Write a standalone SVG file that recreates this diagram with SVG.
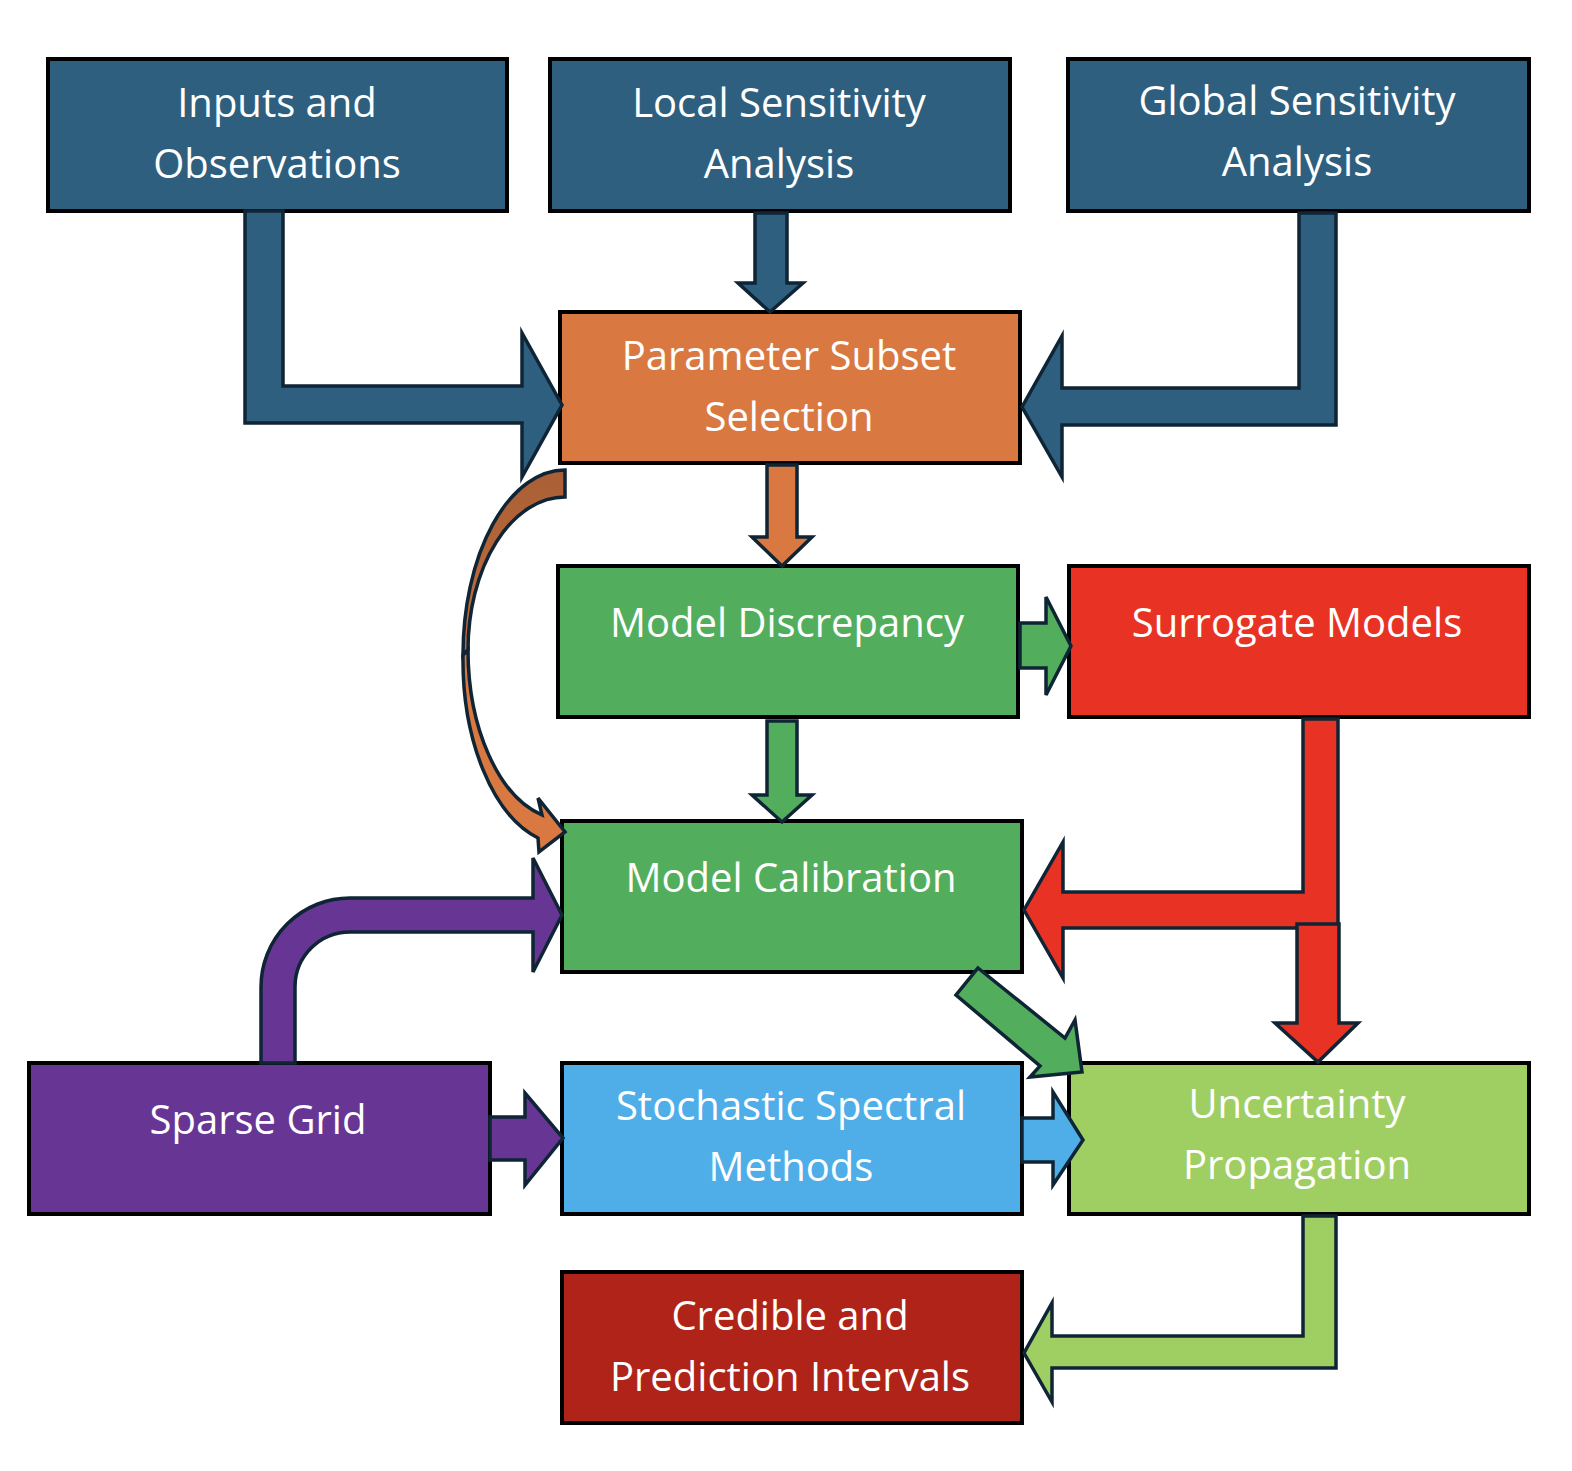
<svg xmlns="http://www.w3.org/2000/svg" width="1572" height="1471" viewBox="0 0 1572 1471">
<defs>
<linearGradient id="gBack" x1="0" y1="0" x2="0" y2="1">
<stop offset="0" stop-color="#A95F36"/>
<stop offset="1" stop-color="#C46D3C"/>
</linearGradient>
</defs>
<style>
.box{stroke:#000;stroke-width:4}
.arr{stroke:#0F2535;stroke-width:3.5;stroke-linejoin:miter}
.t{font-family:"Open Sans","Noto Sans","Liberation Sans",sans-serif;font-size:40px;fill:#fff;text-anchor:middle}
.navy{fill:#2E5F7F}.orange{fill:#D97941}.green{fill:#52AE5C}.red{fill:#E83324}
.purple{fill:#673695}.blue{fill:#4FADE8}.lgreen{fill:#9FCF63}.dred{fill:#B02318}
</style>
<rect width="1572" height="1471" fill="#fff"/>
<g id="nodes">
<g id="inputs"><rect class="box navy" x="48" y="59" width="459" height="152"/><text class="t" x="277" y="117">Inputs and</text><text class="t" x="277" y="178">Observations</text></g>
<g id="local"><rect class="box navy" x="550" y="59" width="460" height="152"/><text class="t" x="779" y="117">Local Sensitivity</text><text class="t" x="779" y="178">Analysis</text></g>
<g id="global"><rect class="box navy" x="1068" y="59" width="461" height="152"/><text class="t" x="1297" y="115">Global Sensitivity</text><text class="t" x="1297" y="176">Analysis</text></g>
<g id="subset"><rect class="box orange" x="560" y="312" width="460" height="151"/><text class="t" x="789" y="370">Parameter Subset</text><text class="t" x="789" y="431">Selection</text></g>
<g id="discrepancy"><rect class="box green" x="558" y="566" width="460" height="151"/><text class="t" x="787" y="637">Model Discrepancy</text></g>
<g id="surrogate"><rect class="box red" x="1069" y="566" width="460" height="151"/><text class="t" x="1297" y="637">Surrogate Models</text></g>
<g id="calibration"><rect class="box green" x="562" y="821" width="460" height="151"/><text class="t" x="791" y="892">Model Calibration</text></g>
<g id="sparse"><rect class="box purple" x="29" y="1063" width="461" height="151"/><text class="t" x="258" y="1134">Sparse Grid</text></g>
<g id="spectral"><rect class="box blue" x="562" y="1063" width="460" height="151"/><text class="t" x="791" y="1120">Stochastic Spectral</text><text class="t" x="791" y="1181">Methods</text></g>
<g id="propagation"><rect class="box lgreen" x="1069" y="1063" width="460" height="151"/><text class="t" x="1297" y="1118">Uncertainty</text><text class="t" x="1297" y="1179">Propagation</text></g>
<g id="intervals"><rect class="box dred" x="562" y="1272" width="460" height="151"/><text class="t" x="790" y="1330">Credible and</text><text class="t" x="790" y="1391">Prediction Intervals</text></g>
</g>
<g id="connectors">
<polygon class="arr navy" points="245,211 283,211 283,386 522,386 522,333 562,405 522,477 522,423 245,423"/>
<polygon class="arr navy" points="1336,213 1336,425 1062,425 1062,477 1022,407 1062,336 1062,388 1299,388 1299,213"/>
<polygon class="arr navy" points="755,213 787,213 787,283 803,283 770,312 738,283 755,283"/>
<polygon class="arr orange" points="767,465 797,465 797,537 812,537 782,566 752,537 767,537"/>
<polygon class="arr green" points="767,721 797,721 797,795 812,795 782,822 752,795 767,795"/>
<path class="arr" fill="url(#gBack)" d="M565,470 A102,185 0 0 0 463,655 L468,650 A97,153 0 0 1 565,497 Z"/>
<path class="arr orange" d="M463,655 A102,185 0 0 0 538,838 L539,852 L565,832 L538,798 L542,815 A97,170 0 0 1 468,650 Z"/>
<polygon class="arr green" points="1020,623 1046,623 1046,597 1071,646 1046,695 1046,668 1020,668"/>
<polygon class="arr red" points="1303,719 1338,719 1338,928 1063,928 1063,978 1024,910 1063,842 1063,892 1303,892"/>
<polygon class="arr red" points="1297,924 1339,924 1339,1023 1358,1023 1318,1062 1275,1023 1297,1023"/>
<path class="arr purple" d="M261,1063 L261,987 A89,89 0 0 1 350,898 L533,898 L533,858 L562,915 L533,972 L533,932 L350,932 A55,55 0 0 0 295,987 L295,1063 Z"/>
<polygon class="arr green" points="978,968 1065,1038 1075,1020 1082,1072 1030,1077 1040,1066 956,995"/>
<polygon class="arr purple" points="490,1117 525,1117 525,1093 563,1138 525,1185 525,1160 490,1160"/>
<polygon class="arr blue" points="1022,1118 1053,1118 1053,1092 1083,1140 1053,1185 1053,1162 1022,1162"/>
<polygon class="arr lgreen" points="1336,1216 1336,1368 1052,1368 1052,1402 1024,1353 1052,1303 1052,1336 1303,1336 1303,1216"/>
</g>
</svg>
